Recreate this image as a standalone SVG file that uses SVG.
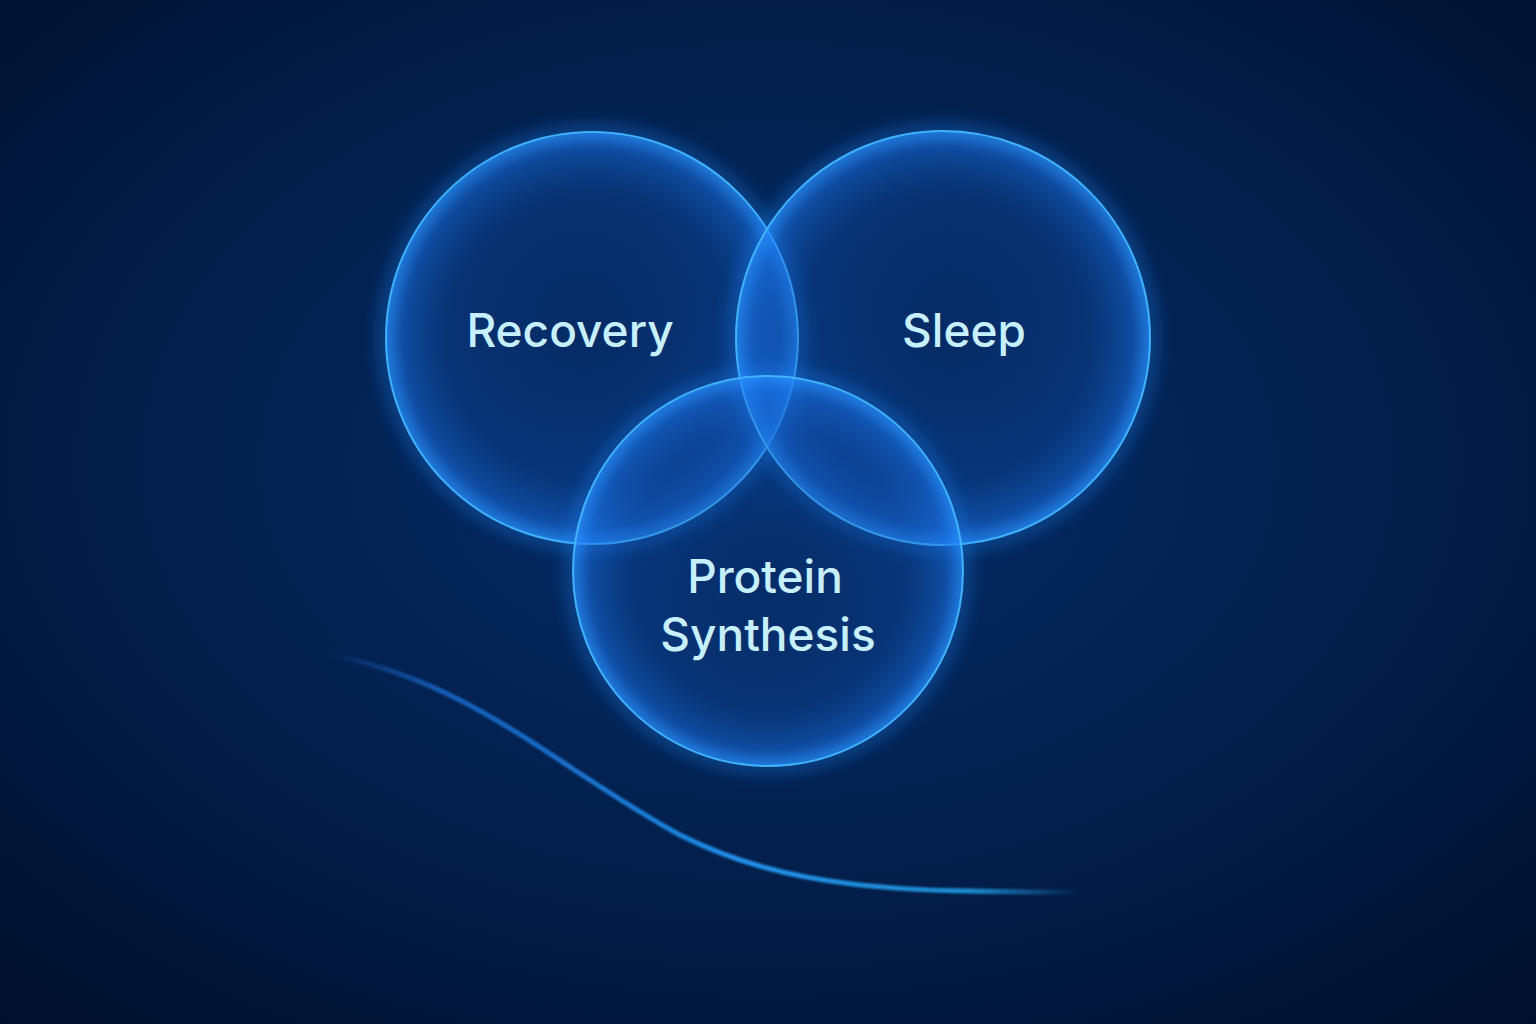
<svg xmlns="http://www.w3.org/2000/svg" width="1536" height="1024" viewBox="0 0 1536 1024">
<defs>
<radialGradient id="bg" cx="50%" cy="45%" r="75%">
<stop offset="0" stop-color="#052d68"/>
<stop offset="0.5" stop-color="#03204d"/>
<stop offset="1" stop-color="#010f2b"/>
</radialGradient>
<radialGradient id="cf" cx="50%" cy="50%" r="50%">
<stop offset="0" stop-color="#0a3a86" stop-opacity="0.2"/>
<stop offset="0.7" stop-color="#1254b8" stop-opacity="0.3"/>
<stop offset="0.92" stop-color="#1c74ea" stop-opacity="0.5"/>
<stop offset="1" stop-color="#2890ff" stop-opacity="0.72"/>
</radialGradient>
<linearGradient id="curveG" x1="330" y1="0" x2="1080" y2="0" gradientUnits="userSpaceOnUse">
<stop offset="0" stop-color="#1a6fd8" stop-opacity="0"/>
<stop offset="0.15" stop-color="#1a6fd8" stop-opacity="0.75"/>
<stop offset="0.55" stop-color="#2090ea" stop-opacity="1"/>
<stop offset="0.85" stop-color="#22a0ea" stop-opacity="0.85"/>
<stop offset="1" stop-color="#22a0ea" stop-opacity="0"/>
</linearGradient>
<filter id="glow" x="-30%" y="-30%" width="160%" height="160%">
<feGaussianBlur stdDeviation="9"/>
</filter>
<filter id="soft" x="-10%" y="-10%" width="120%" height="120%">
<feGaussianBlur stdDeviation="1.2"/>
</filter>
</defs>
<style>
.glow{fill:none;stroke:#1c88ff;stroke-width:10;opacity:0.55}
.body{fill:url(#cf)}
.rim{fill:none;stroke:#42b6ff;stroke-width:2;opacity:0.95}
.lbl{font-family:Inter,"Noto Sans","DejaVu Sans",sans-serif;font-size:46px;font-weight:500;fill:#c6efff;text-anchor:middle}
</style>
<rect width="1536" height="1024" fill="url(#bg)"/>
<g id="connectors">
<path d="M 330 655 C 470 680, 560 770, 680 835 C 790 890, 900 892, 1075 892" fill="none" stroke="url(#curveG)" stroke-width="5" stroke-linecap="round" filter="url(#soft)"/>
</g>
<g id="node-recovery">
<circle cx="592" cy="338" r="206" class="glow" filter="url(#glow)"/>
<circle cx="592" cy="338" r="206" class="body"/>
<circle cx="592" cy="338" r="206" class="rim"/>
<text x="570" y="347" class="lbl">Recovery</text>
</g>
<g id="node-sleep">
<circle cx="943" cy="338" r="207" class="glow" filter="url(#glow)"/>
<circle cx="943" cy="338" r="207" class="body"/>
<circle cx="943" cy="338" r="207" class="rim"/>
<text x="964" y="347" class="lbl">Sleep</text>
</g>
<g id="node-protein">
<circle cx="768" cy="571" r="195" class="glow" filter="url(#glow)"/>
<circle cx="768" cy="571" r="195" class="body"/>
<circle cx="768" cy="571" r="195" class="rim"/>
<text x="765" y="593" class="lbl">Protein</text>
<text x="768" y="651" class="lbl">Synthesis</text>
</g>
</svg>
